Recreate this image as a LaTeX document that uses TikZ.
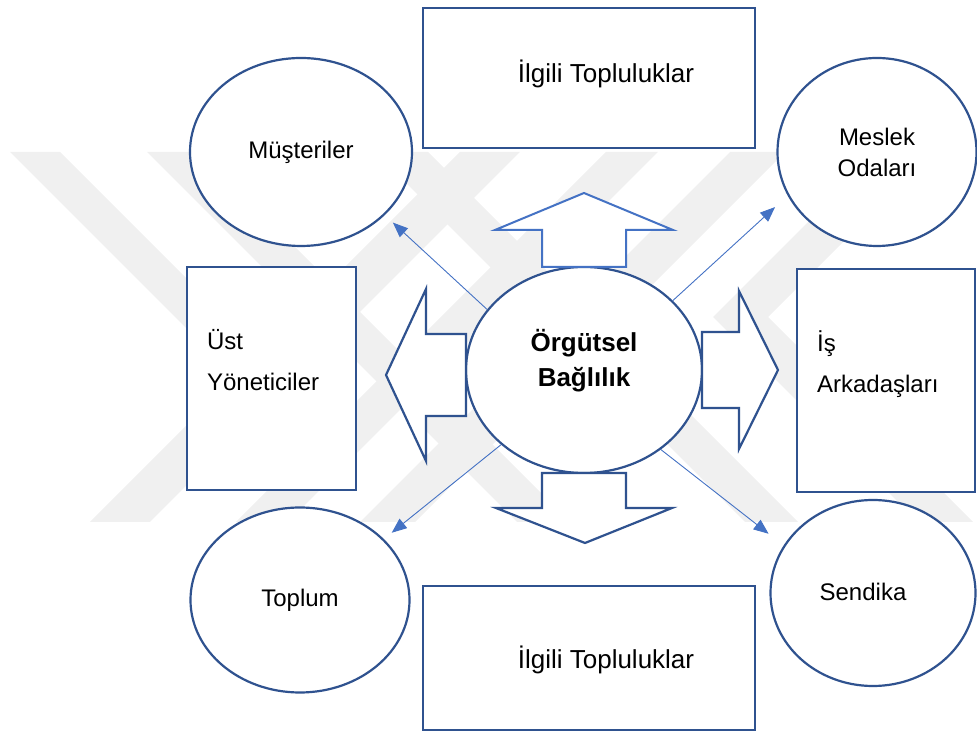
\documentclass[tikz,border=0pt]{standalone}
\usepackage{fontspec}
\setmainfont{Liberation Sans}
\usetikzlibrary{positioning, shapes.geometric, arrows.meta}
\definecolor{koyumavi}{RGB}{47,82,143}
\definecolor{acikmavi}{RGB}{68,114,196}
\begin{document}
\begin{tikzpicture}[x=1pt, y=1pt, on grid,
    elips/.style={draw=koyumavi, line width=2.2pt, fill=white, ellipse, inner sep=0pt, align=center, font=\fontsize{24}{31}\selectfont},
    kutu/.style={draw=koyumavi, line width=2.2pt, fill=white, rectangle, inner sep=0pt},
    yazi/.style={inner sep=0pt, align=left, font=\fontsize{24}{41}\selectfont},
    blok/.style={draw=koyumavi, line width=2.2pt, fill=white},
    ok/.style={draw=acikmavi, line width=0.9pt, -{Triangle[length=15pt,width=12pt]}},
    filigran/.style={fill=black!6}]
    \useasboundingbox (0,0) rectangle (977,733);
    % Filigran
    \fill[filigran] (10,581) -- (60,581) -- (290,351) -- (235,356) -- cycle;
    \fill[filigran] (90,211) -- (150,211) -- (520,581) -- (460,581) -- cycle;
    \fill[filigran] (236,211) -- (288,211) -- (658,581) -- (606,581) -- cycle;
    \fill[filigran] (147,581) -- (200,581) -- (570,211) -- (517,211) -- cycle;
    \fill[filigran] (375,581) -- (428,581) -- (798,211) -- (745,211) -- cycle;
    \fill[filigran] (360,211) -- (415,211) -- (785,581) -- (730,581) -- cycle;
    \fill[filigran] (713,416) -- (878,581) -- (933,581) -- (768,416) -- (973,211) -- (918,211) -- cycle;

    % Düğümler
    \node[elips, minimum width=236pt, minimum height=206pt] (merkez) at (584,363) {};
    \node[yazi, align=center, font=\bfseries\fontsize{26}{35}\selectfont] (merkezyazi) at ([yshift=9pt]merkez.center) {Örgütsel\\Bağlılık};

    \node[elips, minimum width=222pt, minimum height=188pt, above left=218pt and 283pt of merkez] (musteri) {Müşteriler};
    \node[elips, minimum width=199pt, minimum height=188pt, above right=218pt and 293pt of merkez] (meslek) {Meslek\\Odaları};
    \node[elips, minimum width=219pt, minimum height=185pt, below left=230pt and 284pt of merkez] (toplum) {Toplum};
    \node[elips, minimum width=205pt, minimum height=186pt, below right=223pt and 289pt of merkez] (sendika) {};
    \node[yazi] (sendikayazi) at ([xshift=-10pt, yshift=1pt]sendika.center) {Sendika};

    \node[kutu, minimum width=332pt, minimum height=140pt, above=292pt of merkez, xshift=5pt] (ustkutu) {};
    \node[kutu, minimum width=332pt, minimum height=144pt, below=288pt of merkez, xshift=5pt] (altkutu) {};
    \node[kutu, minimum width=169pt, minimum height=223pt, left=312.5pt of merkez, yshift=-8.5pt] (solkutu) {};
    \node[kutu, minimum width=178pt, minimum height=223pt, right=302pt of merkez, yshift=-10.5pt] (sagkutu) {};

    \node[yazi, font=\fontsize{26}{31}\selectfont] (ustyazi) at ([xshift=17pt, yshift=4pt]ustkutu.center) {İlgili Topluluklar};
    \node[yazi, font=\fontsize{26}{31}\selectfont] (altyazi) at ([xshift=17pt, yshift=-2pt]altkutu.center) {İlgili Topluluklar};
    \node[yazi, anchor=west] (solyazi) at ([xshift=21pt, yshift=18.5pt]solkutu.west) {Üst\\Yöneticiler};
    \node[yazi, anchor=west] (sagyazi) at ([xshift=21pt, yshift=16.5pt]sagkutu.west) {İş\\Arkadaşları};

    % Blok oklar
    \draw[blok, draw=acikmavi, line width=2pt, shift={(merkez.center)}] (-42,103) -- (-42,140) -- (-89,140) -- (0,177) -- (89,140) -- (42,140) -- (42,103) -- cycle;
    \draw[blok, shift={(merkez.center)}] (-42,-103) -- (-42,-138) -- (-88,-138) -- (1,-173) -- (88,-138) -- (42,-138) -- (42,-103) -- cycle;
    \draw[blok, shift={(merkez.center)}] (-118,36) -- (-158,36) -- (-158,81) -- (-198,-5) -- (-158,-91) -- (-158,-46) -- (-118,-46) -- cycle;
    \draw[blok, shift={(merkez.center)}] (118,38) -- (155,38) -- (155,79) -- (194,0) -- (155,-79) -- (155,-38) -- (118,-38) -- cycle;

    % Bağlantılar
    \draw[ok, shorten >=11pt] (merkez.148) -- (musteri.-37);
    \draw[ok, shorten >=17pt] (merkez.38.6) -- (meslek.206);
    \draw[ok, shorten >=10pt] (merkez.222) -- (toplum.36);
    \draw[ok, shorten >=19pt] (merkez.-46.5) -- (sendika.152);
\end{tikzpicture}
\end{document}
